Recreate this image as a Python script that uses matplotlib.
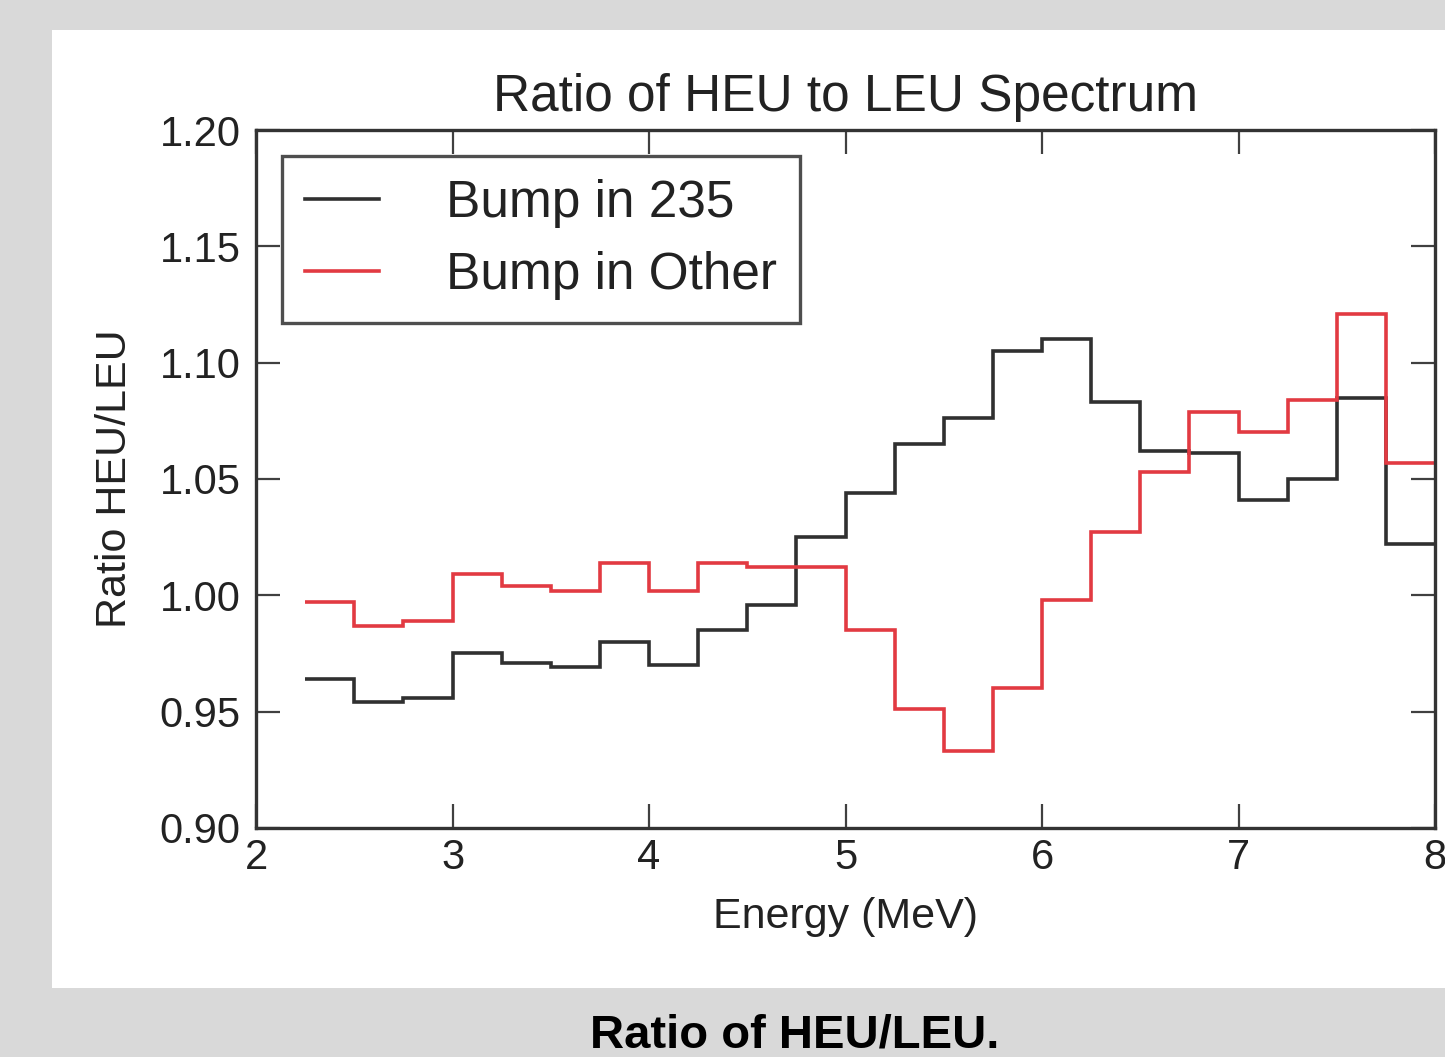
import numpy as np
import matplotlib
matplotlib.use("Agg")
import matplotlib.pyplot as plt
from matplotlib.patches import Rectangle

plt.rcParams["font.family"] = ["Liberation Sans", "DejaVu Sans"]

# 0.25 MeV bins from 2.25 to 8.0 MeV
edges = np.arange(2.25, 8.0001, 0.25)
bump_235 = [0.964, 0.954, 0.956, 0.975, 0.971, 0.969, 0.980, 0.970,
            0.985, 0.996, 1.025, 1.044, 1.065, 1.076, 1.105, 1.110,
            1.083, 1.062, 1.061, 1.041, 1.050, 1.085, 1.022]
bump_other = [0.997, 0.987, 0.989, 1.009, 1.004, 1.002, 1.014, 1.002,
              1.014, 1.012, 1.012, 0.985, 0.951, 0.933, 0.960, 0.998,
              1.027, 1.053, 1.079, 1.070, 1.084, 1.121, 1.057]
xticks = [2, 3, 4, 5, 6, 7, 8]
yticks = [0.90, 0.95, 1.00, 1.05, 1.10, 1.15, 1.20]

fig = plt.figure(figsize=(14.45, 10.57), dpi=100, facecolor="#d9d9d9")
# white panel behind the plot
fig.patches.append(Rectangle((0.036, 0.0653), 0.97, 0.9063,
                             transform=fig.transFigure, facecolor="white",
                             edgecolor="none", zorder=-10))

ax = fig.add_axes([0.1772, 0.2167, 0.8159, 0.6603])
ax.set_facecolor("white")

ax.stairs(bump_235, edges, baseline=None, color="#303030", lw=2.6,
          label="Bump in 235")
ax.stairs(bump_other, edges, baseline=None, color="#e23a42", lw=2.6,
          label="Bump in Other")

ax.set_xlim(2, 8)
ax.set_ylim(0.90, 1.20)
ax.set_xticks(xticks)
ax.set_yticks(yticks)
ax.set_yticklabels([f"{v:.2f}" for v in yticks])
ax.tick_params(direction="in", length=17, width=1.6, color="#404040",
               top=True, right=True, labelsize=30, labelcolor="#222222")
ax.tick_params(axis="x", pad=7)
ax.tick_params(axis="y", pad=11)
for sp in ax.spines.values():
    sp.set_linewidth(2.4)
    sp.set_color("#333333")

ax.set_title("Ratio of HEU to LEU Spectrum", fontsize=37, color="#222222", pad=14)
ax.set_xlabel("Energy (MeV)", fontsize=31, color="#222222")
ax.set_ylabel("Ratio HEU/LEU", fontsize=31, color="#222222")
ax.xaxis.set_label_coords(0.5, -0.099)
ax.yaxis.set_label_coords(-0.103, 0.5)

leg = ax.legend(loc="upper left", fontsize=37, frameon=True, fancybox=False,
                handlelength=1.45, handletextpad=1.3, labelspacing=0.45,
                borderpad=0.45, borderaxespad=0.5)
leg.get_frame().set_edgecolor("#222222")
leg.get_frame().set_linewidth(2.4)
for t in leg.get_texts():
    t.set_color("#222222")

fig.text(0.55, 0.0205, "Ratio of HEU/LEU.", ha="center", va="center",
         fontsize=34, fontweight="bold", color="black")

fig.savefig("out.png", dpi=100, facecolor=fig.get_facecolor())
